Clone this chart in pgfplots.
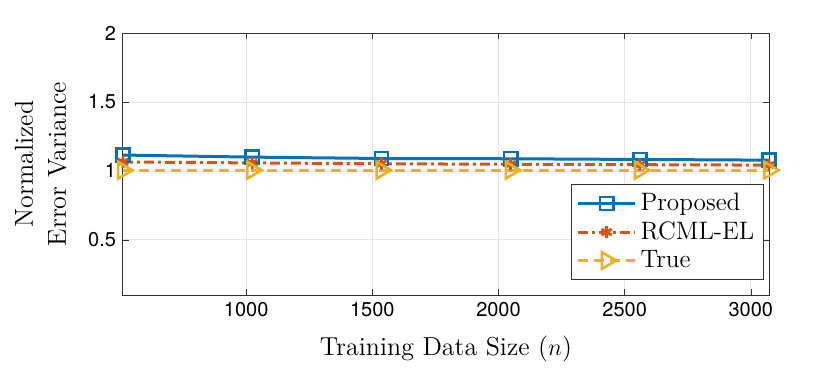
\documentclass[border=0pt]{standalone}
\usepackage{pgfplots}
\pgfplotsset{compat=1.18}
\usepackage{fontspec}
\newfontfamily\heros{TeX Gyre Heros}
\definecolor{mblue}{rgb}{0,0.447,0.741}
\definecolor{mred}{rgb}{0.85,0.325,0.098}
\definecolor{myellow}{rgb}{0.929,0.694,0.125}
\begin{document}
\begin{tikzpicture}
\begin{axis}[
    name=ax,
    width=323pt, height=131pt,
    scale only axis,
    xmin=512, xmax=3072,
    ymin=0.1, ymax=2,
    xtick={1000,1500,2000,2500,3000},
    ytick={0.5,1,1.5,2},
    grid=major,
    major grid style={gray!20, line width=0.4pt},
    tick align=inside,
    major tick length=3pt,
    axis line style={line width=0.5pt, black!80},
    tick style={black!80},
    /pgf/number format/assume math mode=true,
    /pgf/number format/1000 sep={},
    tick label style={font=\heros\fontsize{10}{12}\selectfont},
    xlabel={Training Data Size ($n$)},
    ylabel={Normalized\\Error Variance},
    label style={font=\fontsize{13}{16.5}\selectfont},
    xlabel style={yshift=-3pt},
    ylabel style={align=center, yshift=4pt},
    legend style={at={(0.992,0.057)}, anchor=south east, font=\fontsize{12.6}{14}\selectfont,
        draw=black!80, line width=0.5pt, row sep=0pt, inner sep=2.5pt},
    legend cell align=left,
    legend image code/.code={\draw[mark repeat=2,mark phase=2] plot coordinates {(0cm,0cm) (0.5cm,0cm) (1.0cm,0cm)};},
    clip=false,
]
\addplot[mblue, line width=1.5pt, mark=square, mark size=3.3pt, mark options={solid, line width=1.3pt}]
    coordinates {(512,1.115) (1024,1.100) (1536,1.090) (2048,1.088) (2560,1.083) (3072,1.078)};
\addplot[mred, line width=1.5pt, dash pattern=on 5pt off 2pt on 1.5pt off 2pt, mark=asterisk, mark size=3pt, mark options={solid, line width=1.4pt}]
    coordinates {(512,1.065) (1024,1.058) (1536,1.052) (2048,1.048) (2560,1.045) (3072,1.042)};
\addplot[myellow, line width=1.5pt, dash pattern=on 5pt off 3pt, mark=triangle, mark size=4.8pt, mark options={solid, line width=1.3pt, rotate=-90}]
    coordinates {(512,1.005) (1024,1.005) (1536,1.005) (2048,1.005) (2560,1.005) (3072,1.005)};
\legend{Proposed, RCML-EL, True}
\end{axis}
\path (ax.south west) ++(-61.5pt,-38.5pt) coordinate (bl);
\path (ax.south west) ++(353.5pt,147.5pt) coordinate (tr);
\path[use as bounding box] (bl) rectangle (tr);
\end{tikzpicture}
\end{document}
